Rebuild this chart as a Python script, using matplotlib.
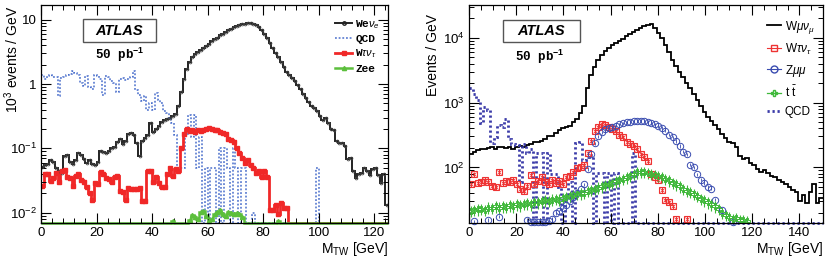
import numpy as np
import matplotlib
matplotlib.use('Agg')
import matplotlib.pyplot as plt
from matplotlib.patches import Rectangle
from matplotlib.lines import Line2D
from matplotlib.ticker import MultipleLocator, FixedLocator, FixedFormatter, LogLocator, NullFormatter

plt.rcParams['font.family'] = ['Liberation Sans', 'DejaVu Sans']
plt.rcParams['mathtext.fontset'] = 'custom'
plt.rcParams['mathtext.rm'] = 'Liberation Sans'
plt.rcParams['mathtext.it'] = 'Liberation Sans:italic'
plt.rcParams['mathtext.bf'] = 'Liberation Sans:bold'

# ---------------- Left panel data (1 GeV bins, 0-125 GeV), units 10^3 events / GeV
left_range = (0, 125)
wenu = [0.052, 0.055, 0.058, 0.066, 0.062, 0.05, 0.045, 0.042, 0.075, 0.078,
        0.062, 0.058, 0.066, 0.085, 0.08, 0.068, 0.06, 0.065, 0.058, 0.055,
        0.062, 0.09, 0.088, 0.085, 0.09, 0.1, 0.105, 0.125, 0.14, 0.115,
        0.13, 0.17, 0.175, 0.16, 0.12, 0.075, 0.13, 0.145, 0.16, 0.25,
        0.18, 0.2, 0.22, 0.26, 0.28, 0.29, 0.3, 0.32, 0.34, 0.45,
        0.75, 1.2, 1.7, 2.2, 2.6, 2.9, 3.2, 3.4, 3.6, 3.85,
        4.2, 4.6, 5.0, 5.3, 5.8, 6.1, 6.5, 6.9, 7.3, 7.7,
        8.0, 8.3, 8.6, 8.7, 8.8, 8.9, 8.7, 8.3, 7.6, 6.9,
        6.0, 5.2, 4.4, 3.7, 3.1, 2.6, 2.2, 1.85, 1.55, 1.38,
        1.25, 1.12, 0.98, 0.85, 0.7, 0.6, 0.52, 0.45, 0.42, 0.38,
        0.32, 0.28, 0.3, 0.25, 0.2, 0.19, 0.13, 0.12, 0.12, 0.11,
        0.068, 0.07, 0.045, 0.034, 0.04, 0.042, 0.05, 0.045, 0.038, 0.047,
        0.05, 0.038, 0.029, 0.04, 0.013]
qcd_e = [1.4, 1.2, 1.35, 1.4, 1.3, 1.3, 0.65, 1.25, 1.3, 1.4,
         1.45, 1.6, 1.5, 1.4, 1.05, 0.95, 1.35, 0.9, 0.85, 1.4,
         1.35, 1.2, 0.68, 1.35, 1.3, 1.1, 1.05, 0.75, 1.2, 1.25,
         1.15, 1.2, 1.3, 1.6, 0.8, 0.68, 0.55, 0.65, 0.4, 0.5,
         0.4, 0.72, 0.57, 0.5, 0.38, 0.36, 0.3, 0.25, 0.16, 0.05,
         0.05, 0.05, 0.17, 0.33, 0.15, 0.33, 0.05, 0.15, 0, 0.05,
         0, 0.05, 0.05, 0, 0.1, 0, 0.1, 0.05, 0, 0.1,
         0.05, 0, 0.05, 0.05, 0, 0, 0.01, 0, 0, 0,
         0, 0, 0, 0, 0, 0, 0, 0, 0, 0,
         0, 0, 0, 0, 0, 0, 0, 0, 0, 0.05,
         0, 0, 0, 0, 0, 0, 0, 0, 0, 0,
         0, 0, 0, 0, 0, 0, 0, 0, 0, 0,
         0, 0, 0, 0, 0]
wtaunu_e = [0.026, 0.04, 0.04, 0.031, 0.035, 0.041, 0.03, 0.044, 0.046, 0.036,
            0.035, 0.026, 0.037, 0.04, 0.032, 0.03, 0.025, 0.02, 0.016, 0.029,
            0.028, 0.043, 0.04, 0.035, 0.033, 0.03, 0.036, 0.037, 0.022, 0.021,
            0.016, 0.024, 0.023, 0.023, 0.023, 0.024, 0.015, 0.015, 0.045, 0.045,
            0.03, 0.036, 0.029, 0.025, 0.025, 0.04, 0.05, 0.037, 0.047, 0.045,
            0.1, 0.17, 0.2, 0.185, 0.19, 0.18, 0.19, 0.185, 0.19, 0.2,
            0.205, 0.2, 0.195, 0.19, 0.18, 0.175, 0.165, 0.14, 0.135, 0.125,
            0.1, 0.085, 0.07, 0.06, 0.065, 0.055, 0.05, 0.042, 0.045, 0.036,
            0.045, 0.036, 0.011, 0.011, 0.013, 0.0095, 0.014, 0.012, 0.012, 0,
            0, 0, 0, 0, 0, 0, 0, 0, 0, 0,
            0, 0, 0, 0, 0, 0, 0, 0, 0, 0,
            0, 0, 0, 0, 0, 0, 0, 0, 0, 0,
            0, 0, 0, 0, 0]
zee = [0] * 47 + [0.0075, 0, 0, 0, 0, 0, 0.0078, 0.0093, 0.0085, 0.008, 0.0102,
                  0.0105, 0.0088, 0.0075, 0.008, 0.0095, 0.0104, 0.0108, 0.0095, 0.009,
                  0.0102, 0.0098, 0.0094, 0.0098, 0.0094, 0.0085, 0,
                  0, 0, 0, 0, 0, 0, 0, 0, 0, 0, 0, 0.0075] + [0] * 39

# ---------------- Right panel data (1.5 GeV bins, 0-150 GeV), events / GeV
right_range = (0, 150)
wmunu = [160, 175, 185, 195, 190, 200, 205, 195, 205, 210,
         200, 210, 190, 205, 215, 210, 225, 230, 245, 250,
         260, 275, 300, 310, 340, 380, 400, 420, 440, 500,
         560, 680, 900, 1650, 2700, 3600, 4500, 5400, 6300, 7000,
         7700, 8400, 9000, 9700, 10500, 11300, 12200, 13200, 14200, 15000,
         15800, 16300, 14200, 12000, 9800, 7800, 6000, 4600, 3700, 3000,
         2500, 2000, 1650, 1350, 1080, 880, 720, 600, 520, 450,
         390, 330, 280, 250, 235, 205, 150, 135, 140, 115,
         110, 95, 85, 92, 82, 75, 72, 65, 60, 55,
         50, 45, 42, 30, 38, 28, 42, 55, 28, 34]
wtaunu_mu = [55, 78, 57, 60, 64, 60, 52, 50, 85, 57,
             62, 60, 64, 56, 47, 43, 52, 76, 55, 62,
             72, 60, 55, 65, 58, 62, 55, 70, 74, 84,
             98, 103, 110, 165, 260, 370, 420, 460, 455, 420,
             385, 360, 320, 290, 250, 230, 215, 190, 160, 145,
             125, 80, 70, 65, 45, 32, 29, 25, 16, 0,
             0, 16] + [0] * 38
zmumu = [0, 14.8, 0, 0, 0, 15.5, 0, 0, 17.5, 0,
         0, 0, 0, 0, 0, 0, 15.5, 14.5, 14.3, 14.3,
         14.3, 14.5, 14.8, 16, 19.5, 21, 24, 26, 30, 35,
         40, 46, 55, 95, 160, 235, 300, 350, 385, 400,
         420, 440, 460, 480, 495, 505, 515, 525, 525, 520,
         505, 485, 460, 435, 405, 370, 320, 290, 255, 215,
         175, 160, 110, 100, 78, 65, 58, 50, 47, 32,
         0, 22, 0, 0, 14.2] + [0] * 25
ttbar = [21.5, 22, 22.5, 23, 22, 24, 23.5, 25, 24, 25,
         24.5, 26, 25, 27, 26, 27.5, 28, 27, 29.5, 29,
         30, 31, 30.5, 32, 33, 32, 34, 35, 36, 37,
         39, 40, 41, 43, 45, 47, 49, 51, 54, 56,
         58, 61, 63, 66, 70, 74, 79, 84, 86, 85,
         83, 80, 77, 74, 71, 67, 63, 58, 55, 51,
         47, 44, 42, 39, 36, 33, 31, 29, 27, 25,
         23, 20, 18.5, 17, 16, 16.5, 15.5, 15.5, 15] + [0] * 21
qcd_mu = [1700, 1350, 1100, 480, 850, 780, 240, 290, 450, 420,
          560, 270, 230, 220, 60, 230, 165, 190, 0, 165,
          165, 0, 165, 80, 80, 50, 0, 35, 60, 0,
          240, 250, 130, 145, 155, 0, 82, 82, 0, 82,
          0, 82, 0, 0, 0, 0, 165] + [0] * 53

# ---------------- Figure
fig = plt.figure(figsize=(8.3, 2.63), dpi=100)
W, H = 830, 263
axL = fig.add_axes([41 / W, 40 / H, 347 / W, 218 / H])
axR = fig.add_axes([469 / W, 40 / H, 354 / W, 218 / H])

tickfs = 9.5


def style_axes(ax):
    ax.set_yscale('log')
    ax.tick_params(which='both', direction='in', top=True, right=True, labelsize=tickfs, pad=3)
    ax.tick_params(which='major', length=7, width=0.8)
    ax.tick_params(which='minor', length=3.5, width=0.7)
    for s in ax.spines.values():
        s.set_linewidth(0.9)


# ---- Left
ylo_L, yhi_L = 0.0069, 17
eL = np.linspace(left_range[0], left_range[1], len(wenu) + 1)
cL = 0.5 * (eL[:-1] + eL[1:])
wenu_a = np.array(wenu)
qcd_e_a = np.array(qcd_e)
wtaunu_e_a = np.array(wtaunu_e)
zee_a = np.array(zee)

axL.stairs(np.clip(wenu_a, ylo_L, None), eL, color='#222222', lw=1.4, baseline=None)
axL.plot(cL, wenu_a, 'o', ms=2.0, mfc='none', mec='#444444', mew=0.6)
axL.stairs(np.clip(qcd_e_a, ylo_L, None), eL, color='#4a6fcc', lw=1.1,
           linestyle=(0, (1.2, 1.2)), baseline=None)
axL.stairs(np.clip(wtaunu_e_a, ylo_L, None), eL, color='#f02828', lw=2.0, baseline=None)
m = wtaunu_e_a > 0
axL.plot(cL[m], wtaunu_e_a[m], 's', ms=2.4, color='#f02828')
axL.stairs(np.clip(zee_a, ylo_L, None), eL, color='#5cbf3c', lw=1.8, baseline=None, clip_on=False)
m = zee_a > 0
axL.plot(cL[m], zee_a[m], '^', ms=3, color='#5cbf3c', clip_on=False)

style_axes(axL)
axL.set_xlim(*left_range)
axL.set_ylim(ylo_L, yhi_L)
axL.xaxis.set_major_locator(MultipleLocator(20))
axL.xaxis.set_minor_locator(MultipleLocator(4))
axL.yaxis.set_major_locator(FixedLocator([0.01, 0.1, 1, 10]))
axL.yaxis.set_major_formatter(FixedFormatter([r'$10^{-2}$', r'$10^{-1}$', '1', '10']))
axL.yaxis.set_minor_locator(LogLocator(base=10, subs=np.arange(2, 10)))
axL.yaxis.set_minor_formatter(NullFormatter())

fig.text(12 / W, 1 - 6 / H, r'10$^{3}$ events / GeV', rotation=90, ha='center', va='top', fontsize=10)
fig.text(388 / W, 1 - 249 / H, r'M$_{\mathrm{TW}}$ [GeV]', ha='right', va='center', fontsize=10)

axL.add_patch(Rectangle((0.121, 0.83), 0.21, 0.106, transform=axL.transAxes,
                        fill=False, edgecolor='#555555', lw=1.0))
axL.text(0.226, 0.883, 'ATLAS', transform=axL.transAxes, ha='center', va='center',
         fontsize=10.5, fontweight='bold', fontstyle='italic')
axL.text(0.156, 0.77, r'50 pb$^{\mathbf{-1}}$', transform=axL.transAxes, ha='left', va='center',
         fontsize=9, fontweight='bold', family='Liberation Mono')

hL = [Line2D([], [], color='#222222', lw=1.4, marker='o', ms=2.5, mfc='none'),
      Line2D([], [], color='#4a6fcc', lw=1.1, linestyle=(0, (1.2, 1.2))),
      Line2D([], [], color='#f02828', lw=2.0, marker='s', ms=3),
      Line2D([], [], color='#5cbf3c', lw=1.8, marker='^', ms=3)]
labL = [r'We$\nu_{e}$', 'QCD', r'W$\tau\nu_{\tau}$', 'Zee']
axL.legend(hL, labL, loc='upper right', bbox_to_anchor=(1.0, 0.975), frameon=False,
           prop={'family': 'Liberation Mono', 'weight': 'bold', 'size': 8},
           handlelength=1.5, handletextpad=0.3, labelspacing=0.3, borderaxespad=0.3)

# ---- Right
ylo_R, yhi_R = 13.9, 3.2e4
eR = np.linspace(right_range[0], right_range[1], len(wmunu) + 1)
cR = 0.5 * (eR[:-1] + eR[1:])
wmunu_a = np.array(wmunu, float)
wtaunu_mu_a = np.array(wtaunu_mu, float)
zmumu_a = np.array(zmumu, float)
ttbar_a = np.array(ttbar, float)
qcd_mu_a = np.array(qcd_mu, float)

red = '#ee3333'
blue = '#3a4cb0'
green = '#3fb83a'
qblue = '#3a3aa8'

axR.stairs(wmunu_a, eR, color='black', lw=1.3, baseline=None)

m = wtaunu_mu_a > 0
axR.errorbar(cR[m], wtaunu_mu_a[m], yerr=0.1 * wtaunu_mu_a[m], fmt='s', ms=4,
             mfc='none', mec=red, mew=0.8, ecolor=red, elinewidth=0.7, capsize=0)
axR.plot(cR[m], wtaunu_mu_a[m], 'x', ms=2.6, color=red, mew=0.6)
m = zmumu_a > 0
axR.errorbar(cR[m], zmumu_a[m], yerr=0.06 * zmumu_a[m], fmt='o', ms=4.6,
             mfc='none', mec=blue, mew=0.7, ecolor=blue, elinewidth=0.6, capsize=0, clip_on=False)
m = ttbar_a > 0
axR.errorbar(cR[m], ttbar_a[m], yerr=0.2 * ttbar_a[m], fmt='P', ms=4,
             mfc='none', mec=green, mew=0.7, ecolor=green, elinewidth=0.8, capsize=0)
axR.stairs(np.clip(qcd_mu_a, ylo_R, None), eR, color=qblue, lw=2.0,
           linestyle=(0, (0.8, 1.0)), baseline=None, clip_on=False)

style_axes(axR)
axR.set_xlim(*right_range)
axR.set_ylim(ylo_R, yhi_R)
axR.xaxis.set_major_locator(MultipleLocator(20))
axR.xaxis.set_minor_locator(MultipleLocator(5))
axR.yaxis.set_major_locator(FixedLocator([1e2, 1e3, 1e4]))
axR.yaxis.set_major_formatter(FixedFormatter([r'$10^{2}$', r'$10^{3}$', r'$10^{4}$']))
axR.yaxis.set_minor_locator(LogLocator(base=10, subs=np.arange(2, 10)))
axR.yaxis.set_minor_formatter(NullFormatter())

fig.text(433 / W, 1 - 14 / H, 'Events / GeV', rotation=90, ha='center', va='top', fontsize=10)
fig.text(823 / W, 1 - 249 / H, r'M$_{\mathrm{TW}}$ [GeV]', ha='right', va='center', fontsize=10)

axR.add_patch(Rectangle((0.096, 0.83), 0.218, 0.101, transform=axR.transAxes,
                        fill=False, edgecolor='#555555', lw=1.0))
axR.text(0.205, 0.88, 'ATLAS', transform=axR.transAxes, ha='center', va='center',
         fontsize=10.5, fontweight='bold', fontstyle='italic')
axR.text(0.13, 0.76, r'50 pb$^{\mathbf{-1}}$', transform=axR.transAxes, ha='left', va='center',
         fontsize=9, fontweight='bold', family='Liberation Mono')

hR = [Line2D([], [], color='black', lw=1.3),
      Line2D([], [], color=red, lw=0.8, marker='s', ms=4.5, mfc='none'),
      Line2D([], [], color=blue, lw=0.8, marker='o', ms=5, mfc='none'),
      Line2D([], [], color=green, lw=0.9, marker='P', ms=5, mfc='none'),
      Line2D([], [], color=qblue, lw=2.0, linestyle=(0, (0.8, 1.0)))]
labR = [r'W$\mu\nu_{\mu}$', r'W$\tau\nu_{\tau}$', r'Z$\mu\mu$', r't $\bar{\mathrm{t}}$', 'QCD']
axR.legend(hR, labR, loc='upper right', bbox_to_anchor=(1.0, 0.975), frameon=False,
           prop={'size': 8.5}, handlelength=1.2, handletextpad=0.3, labelspacing=0.5,
           borderaxespad=0.3)

fig.savefig('out.png', dpi=100)
